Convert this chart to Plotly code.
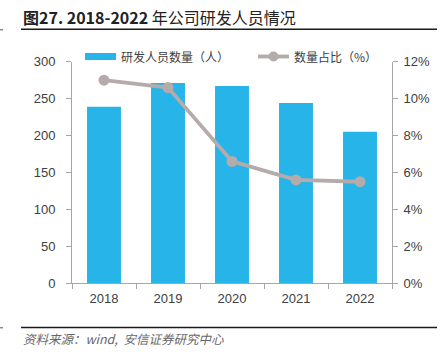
import plotly.graph_objects as go

years = ["2018", "2019", "2020", "2021", "2022"]
staff = [239, 271, 267, 244, 205]
ratio = [11.0, 10.6, 6.6, 5.6, 5.5]
bar_name = "研发人员数量（人）"
line_name = "数量占比（%）"
title_bold = "图27. 2018-2022"
title_rest = " 年公司研发人员情况"
source_text = "资料来源：wind,  安信证券研究中心"

W, H = 442, 357
BAR_C = "#27B4E8"
LINE_C = "#B5ABAB"
TXT = "#404040"
AX = "#A6A6A6"

def px(x):
    return x / W

def py(y):
    return 1 - y / H

fig = go.Figure()
fig.add_trace(go.Bar(x=years, y=staff, name=bar_name, marker_color=BAR_C,
                     marker_line_width=0, yaxis="y", hoverinfo="skip"))
fig.add_trace(go.Scatter(x=years, y=ratio, name=line_name, mode="lines+markers",
                         line=dict(color=LINE_C, width=3.8),
                         marker=dict(color=LINE_C, size=11), yaxis="y2", hoverinfo="skip"))

font = "Liberation Sans, Arial, sans-serif"
cjk = "Noto Sans CJK SC, sans-serif"

fig.update_layout(
    width=W, height=H,
    margin=dict(l=0, r=0, t=0, b=0),
    paper_bgcolor="white", plot_bgcolor="white",
    showlegend=False,
    bargap=0.47,
    font=dict(family=font, size=13, color=TXT),
    xaxis=dict(domain=[px(72), px(392)], showline=True, linecolor=AX, linewidth=1,
               ticks="outside", ticklen=5, tickcolor=AX, tickson="boundaries",
               tickfont=dict(size=13, color=TXT), showgrid=False, automargin=False,
               ticklabelstandoff=3),
    yaxis=dict(domain=[py(283.3), py(61.7)], range=[0, 300], dtick=50,
               showline=True, linecolor=AX, linewidth=1, ticks="outside",
               ticklen=5, tickcolor=AX, showgrid=False, zeroline=False,
               tickfont=dict(size=13, color=TXT), automargin=False,
               ticklabelstandoff=8),
    yaxis2=dict(overlaying="y", side="right", range=[0, 12], dtick=2,
                ticksuffix="%", showline=True, linecolor=AX, linewidth=1,
                ticks="outside", ticklen=5, tickcolor=AX, showgrid=False,
                zeroline=False, tickfont=dict(size=13, color=TXT), automargin=False,
                ticklabelstandoff=3),
)

shapes = [
    dict(type="line", xref="paper", yref="paper", x0=px(21), x1=px(437),
         y0=py(29.3), y1=py(29.3), line=dict(color="#1a1a1a", width=1.6)),
    dict(type="line", xref="paper", yref="paper", x0=px(0), x1=px(3),
         y0=py(29.8), y1=py(29.8), line=dict(color="#555555", width=1)),
    dict(type="line", xref="paper", yref="paper", x0=px(21), x1=px(437),
         y0=py(327.5), y1=py(327.5), line=dict(color="#1a1a1a", width=1.6)),
    dict(type="line", xref="paper", yref="paper", x0=px(0), x1=px(3),
         y0=py(327.8), y1=py(327.8), line=dict(color="#555555", width=1)),
    # legend swatches
    dict(type="rect", xref="paper", yref="paper", x0=px(85), x1=px(116),
         y0=py(60), y1=py(53), fillcolor=BAR_C, line_width=0),
    dict(type="line", xref="paper", yref="paper", x0=px(258), x1=px(289),
         y0=py(56.5), y1=py(56.5), line=dict(color=LINE_C, width=3.8)),
    dict(type="circle", xref="paper", yref="paper", x0=px(268.5), x1=px(278.5),
         y0=py(61.5), y1=py(51.5), fillcolor=LINE_C, line_width=0),
]
fig.update_layout(shapes=shapes)

annotations = [
    dict(text="<b>" + title_bold + "</b>" + title_rest, x=px(21), y=py(17), xref="paper",
         yref="paper", xanchor="left", yanchor="middle", showarrow=False,
         font=dict(family=cjk, size=16, color="#222222")),
    dict(text=bar_name, x=px(119), y=py(56.5), xref="paper", yref="paper",
         xanchor="left", yanchor="middle", showarrow=False,
         font=dict(family=cjk, size=12, color=TXT)),
    dict(text=line_name, x=px(292), y=py(56.5), xref="paper", yref="paper",
         xanchor="left", yanchor="middle", showarrow=False,
         font=dict(family=cjk, size=12, color=TXT)),
    dict(text="<i>" + source_text + "</i>", x=px(21), y=py(338), xref="paper", yref="paper",
         xanchor="left", yanchor="middle", showarrow=False,
         font=dict(family=cjk, size=12.5, color="#666666")),
]
fig.update_layout(annotations=annotations)

fig.write_html("out.html",
               config={"displayModeBar": False, "staticPlot": True},
               post_script="document.documentElement.style.margin='0';"
                           "document.body.style.margin='0';"
                           "document.body.style.overflow='hidden';")
